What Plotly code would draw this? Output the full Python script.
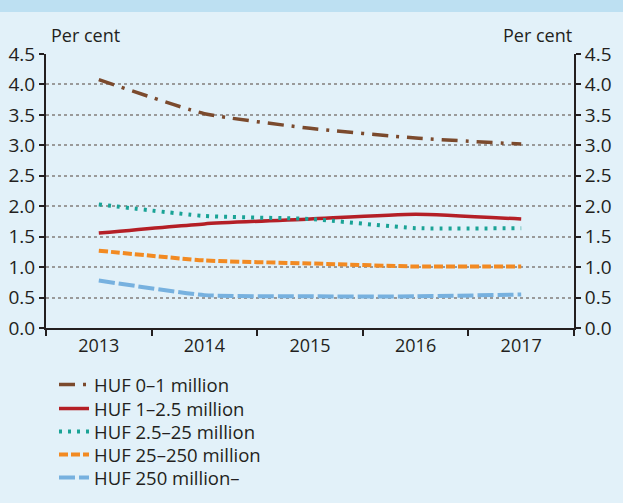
import plotly.graph_objects as go

years = ["2013", "2014", "2015", "2016", "2017"]
s_0_1 = [4.08, 3.52, 3.28, 3.12, 3.02]
s_1_25 = [1.56, 1.71, 1.79, 1.87, 1.79]
s_25_25 = [2.03, 1.84, 1.79, 1.64, 1.64]
s_25_250 = [1.27, 1.11, 1.06, 1.01, 1.01]
s_250 = [0.78, 0.54, 0.52, 0.52, 0.55]
names = ["HUF 0–1 million", "HUF 1–2.5 million", "HUF 2.5–25 million",
         "HUF 25–250 million", "HUF 250 million–"]
yticks = [0, 0.5, 1, 1.5, 2, 2.5, 3, 3.5, 4, 4.5]

FONT = "Open Sans"
TXT = "#231f20"
BG = "#e2f1f9"
W, H = 623, 503
ML, MR, MT, MB = 46, 49, 54, 175
PW, PH = W - ML - MR, H - MT - MB

styles = [
    dict(color="#7b4a2d", width=3.5, dash="16px,8px,3px,8px"),
    dict(color="#b41f26", width=3.5, dash="solid"),
    dict(color="#1aa396", width=4, dash="3px,6px"),
    dict(color="#f28a22", width=4, dash="9px,3px"),
    dict(color="#77b1df", width=4, dash="16px,4px"),
]
series = [s_0_1, s_1_25, s_25_25, s_25_250, s_250]
legend_rows = [385, 409, 432, 455, 478]  # pixel centres of legend rows

legend_ids = ["legend", "legend2", "legend3", "legend4", "legend5"]

fig = go.Figure()
for nm, vals, st, lid in zip(names, series, styles, legend_ids):
    fig.add_trace(go.Scatter(x=years, y=vals, name=nm, mode="lines", legend=lid,
                             line=dict(shape="spline", smoothing=0.5, **st)))
# invisible trace on right axis
fig.add_trace(go.Scatter(x=years, y=s_0_1, yaxis="y2", mode="lines",
                         line=dict(width=0), showlegend=False, hoverinfo="skip",
                         opacity=0))

axis_common = dict(range=[0, 4.5], tickvals=yticks,
                   ticktext=[f"{v:.1f}" for v in yticks],
                   showline=True, linecolor=TXT, linewidth=2,
                   ticks="outside", ticklen=5, tickwidth=2, tickcolor=TXT,
                   tickfont=dict(family=FONT, size=19, color=TXT),
                   zeroline=False, fixedrange=True, automargin=False)

legends = {}
for lid, yc in zip(legend_ids, legend_rows):
    top = yc - 19
    legends[lid] = dict(x=(54 - ML) / PW, y=(MT + PH - top) / PH,
                        xanchor="left", yanchor="top",
                        bgcolor="rgba(0,0,0,0)",
                        font=dict(family=FONT, size=18.5, color=TXT), itemwidth=30)

fig.update_layout(
    width=W, height=H,
    paper_bgcolor=BG, plot_bgcolor=BG,
    margin=dict(l=ML, r=MR, t=MT, b=MB, autoexpand=False),
    font=dict(family=FONT, size=18, color=TXT),
    xaxis=dict(type="category", range=[-0.5, 4.5], showline=True, linecolor=TXT,
               linewidth=2, ticks="outside", tickson="boundaries", ticklen=6,
               tickwidth=2, tickcolor=TXT, showgrid=False, zeroline=False,
               automargin=False, fixedrange=True,
               tickfont=dict(family=FONT, size=18, color=TXT)),
    yaxis=dict(side="left", showgrid=True, gridcolor="#9a9a9a", gridwidth=1.5,
               griddash="dot", **axis_common),
    yaxis2=dict(side="right", overlaying="y", showgrid=False, **axis_common),
    showlegend=True,
    **legends,
    shapes=[dict(type="rect", xref="paper", yref="paper", x0=-0.1, x1=1.1,
                 y0=1 + (MT - 12) / PH, y1=1 + MT / PH + 0.01,
                 fillcolor="#bde0f2", line=dict(width=0), layer="below")],
    annotations=[
        dict(text="Per cent", xref="paper", yref="paper", x=0.005, y=1.02,
             xanchor="left", yanchor="bottom", showarrow=False,
             font=dict(family=FONT, size=18, color=TXT)),
        dict(text="Per cent", xref="paper", yref="paper", x=1.0, y=1.02,
             xanchor="right", yanchor="bottom", showarrow=False,
             font=dict(family=FONT, size=18, color=TXT)),
    ],
)

fig.write_html("out.html", config={"displayModeBar": False},
               post_script="document.body.style.margin='0px';")
